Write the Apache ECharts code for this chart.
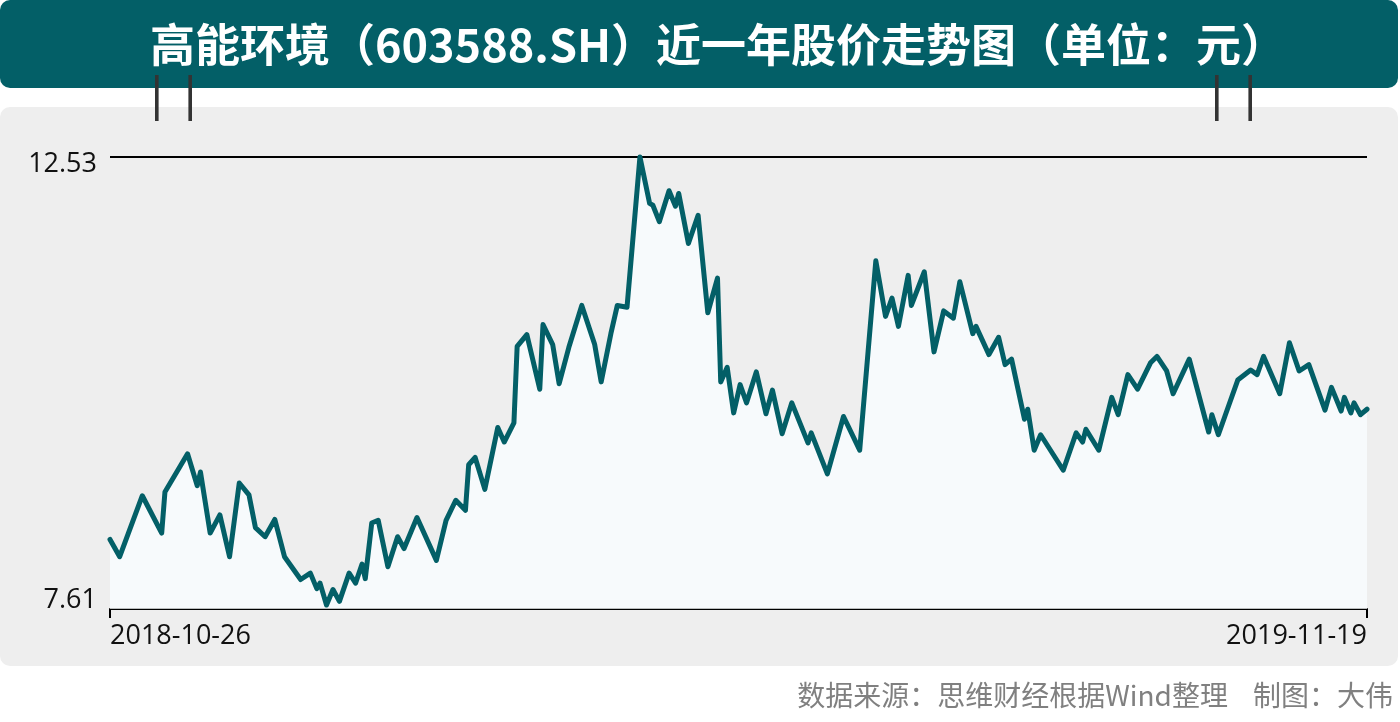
<!DOCTYPE html>
<html>
<head>
<meta charset="utf-8">
<script src="https://cdn.jsdelivr.net/npm/echarts@6/dist/echarts.min.js"></script>
<style>
html,body{margin:0;padding:0;background:#fff;}
#chart{width:1400px;height:722px;}
</style>
</head>
<body>
<div id="chart"></div>
<script>
// Day offsets from 2018-10-26 (calendar days) of the visible turning points
const dayOffsets = [0,3,10,16,17,24,27,28,31,34,
  37,40,43,45,48,51,54,59,62,64,
  65,67,69,71,74,76,78,79,81,83,
  86,89,91,95,101,104,107,110,111,113,
  116,120,122,125,126,129,133,134,137,139,
  142,146,150,152,155,157,160,164,167,168,
  170,173,175,176,179,182,185,188,189,191,
  193,195,197,200,203,205,208,211,216,217,
  222,227,232,237,240,242,244,247,248,252,
  255,258,261,263,267,268,272,275,277,279,
  283,284,286,288,295,299,301,302,306,310,
  312,315,318,322,324,327,329,334,340,341,
  343,345,349,353,355,357,362,365,368,371,
  376,378,381,382,384,385,387,389];
// Closing prices (yuan)
const prices = [8.33,8.14,8.81,8.40,8.85,9.27,8.92,9.07,8.40,8.60,
  8.14,8.95,8.82,8.46,8.36,8.55,8.14,7.89,7.96,7.79,
  7.85,7.61,7.78,7.65,7.96,7.85,8.06,7.90,8.51,8.54,
  8.03,8.36,8.23,8.57,8.10,8.54,8.76,8.65,9.15,9.23,
  8.88,9.56,9.40,9.61,10.45,10.58,9.98,10.69,10.47,10.04,
  10.44,10.90,10.47,10.06,10.59,10.90,10.88,12.53,12.02,12.00,
  11.82,12.16,11.99,12.13,11.58,11.89,10.82,11.20,10.06,10.22,
  9.72,10.03,9.83,10.17,9.71,9.97,9.49,9.83,9.39,9.50,
  9.05,9.68,9.31,11.39,10.78,10.98,10.67,11.23,10.90,11.27,
  10.39,10.84,10.76,11.16,10.59,10.67,10.36,10.55,10.25,10.31,
  9.65,9.76,9.31,9.48,9.09,9.50,9.40,9.54,9.31,9.89,
  9.70,10.14,9.98,10.27,10.34,10.18,9.93,10.31,9.51,9.70,
  9.48,9.68,10.08,10.19,10.14,10.34,9.93,10.49,10.18,10.25,
  9.75,10.00,9.74,9.89,9.72,9.83,9.70,9.76];
const xTickLabels = ['2018-10-26','2019-11-19'];
const xRange = [0, 389];
const yTickValues = [7.61, 12.53];
const titleText = '高能环境（603588.SH）近一年股价走势图（单位：元）';
const footerText = '数据来源：思维财经根据Wind整理    制图：大伟';

const seriesData = dayOffsets.map((d, i) => [d, prices[i]]);
const yMin = yTickValues[0], yMax = yTickValues[1];

const teal = '#035f67';
const chart = echarts.init(document.getElementById('chart'), null, {renderer: 'canvas'});
chart.setOption({
  backgroundColor: '#ffffff',
  animation: false,
  title: {
    text: titleText,
    left: 713,
    top: 13,
    textAlign: 'center',
    textStyle: {
      color: '#ffffff',
      fontFamily: '"Noto Sans CJK SC"',
      fontSize: 45,
      fontWeight: 'bold',
      lineHeight: 54
    },
    z: 5
  },
  graphic: [
    {type: 'rect', z: -20, shape: {x: 0, y: 0, width: 1398, height: 88, r: 10}, style: {fill: teal}},
    {type: 'rect', z: -20, shape: {x: 0, y: 107, width: 1398, height: 559, r: 10}, style: {fill: '#eeeeee'}},
    {type: 'rect', z: 20, shape: {x: 155, y: 75, width: 3.6, height: 46}, style: {fill: '#333333'}},
    {type: 'rect', z: 20, shape: {x: 188.4, y: 75, width: 3.6, height: 46}, style: {fill: '#333333'}},
    {type: 'rect', z: 20, shape: {x: 1215, y: 75, width: 3.6, height: 46}, style: {fill: '#333333'}},
    {type: 'rect', z: 20, shape: {x: 1248.4, y: 75, width: 3.6, height: 46}, style: {fill: '#333333'}},
    {type: 'text', z: 20, x: 1393, y: 695, style: {
      text: footerText, textAlign: 'right', textVerticalAlign: 'middle',
      fill: '#808080', fontSize: 28, fontFamily: '"Noto Sans CJK SC"'}}
  ],
  grid: {left: 110, right: 33, top: 157, bottom: 117, containLabel: false},
  xAxis: {
    type: 'value',
    min: xRange[0],
    max: xRange[1],
    interval: xRange[1] - xRange[0],
    offset: 4,
    axisLine: {show: true, lineStyle: {color: '#000', width: 2}},
    axisTick: {show: true, length: 9, lineStyle: {color: '#000', width: 2}},
    splitLine: {show: false},
    axisLabel: {
      show: true,
      margin: 14,
      color: '#111',
      fontSize: 27,
      fontFamily: '"Open Sans"',
      alignMinLabel: 'left',
      alignMaxLabel: 'right',
      formatter: function (v) { return v === xRange[0] ? xTickLabels[0] : (v === xRange[1] ? xTickLabels[1] : ''); }
    }
  },
  yAxis: {
    type: 'value',
    min: yMin,
    max: yMax,
    interval: +(yMax - yMin).toFixed(2),
    axisLine: {show: false},
    axisTick: {show: false},
    splitLine: {show: true, lineStyle: {color: '#000', width: 2}},
    axisLabel: {
      show: true,
      margin: 13,
      color: '#111',
      fontSize: 27,
      fontFamily: '"Open Sans"',
      formatter: function (v) {
        if (Math.abs(v - yMax) < 0.001) return '{t|' + yTickValues[1].toFixed(2) + '}';
        return '{b|' + yTickValues[0].toFixed(2) + '}';
      },
      rich: {
        t: {fontSize: 27, fontFamily: '"Open Sans"', color: '#111', padding: [14, 0, 0, 0]},
        b: {fontSize: 27, fontFamily: '"Open Sans"', color: '#111', padding: [0, 0, 9, 0]}
      }
    }
  },
  series: [{
    type: 'line',
    data: seriesData,
    symbol: 'none',
    clip: false,
    z: 3,
    lineStyle: {color: teal, width: 5, cap: 'round', join: 'round'},
    areaStyle: {color: '#f7fafc', opacity: 1, origin: 7.57}
  }]
});
</script>
</body>
</html>
